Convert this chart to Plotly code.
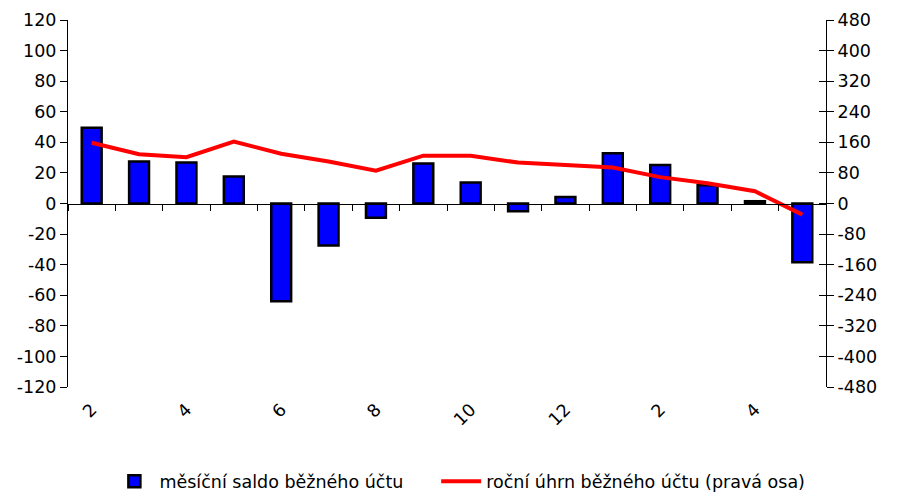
import plotly.graph_objects as go

# months Feb .. Dec, then Jan .. May
months = ["2", "3", "4", "5", "6", "7", "8", "9", "10", "11", "12", "1", "2", "3", "4", "5"]
categories = [f"{m}/{'a' if i < 11 else 'b'}" for i, m in enumerate(months)]
tick_vals = categories[::2]
tick_text = months[::2]

monthly_saldo = [49.5, 27.4, 26.8, 17.7, -64.0, -27.4, -9.3, 26.1,
                 13.8, -5.0, 4.3, 32.8, 25.1, 11.9, 1.5, -38.5]
annual_sum = [159, 129, 121, 162, 130, 110, 86, 125,
              125, 107, 101, 94, 69, 53, 32, -29]

left_ticks = list(range(-120, 121, 20))
right_ticks = list(range(-480, 481, 80))
# Excel-style hyphen instead of the unicode minus
left_text = [str(v) for v in left_ticks]
right_text = [str(v) for v in right_ticks]

font = "DejaVu Sans, Liberation Sans, Arial, sans-serif"
x_range = [-0.5, len(categories) - 0.5]
pad = "\u00a0" * 5

fig = go.Figure()
fig.add_trace(go.Bar(
    x=categories, y=monthly_saldo, name="měsíční saldo běžného účtu" + pad,
    marker=dict(color="#0000ff", line=dict(color="black", width=2.5)),
    xaxis="x", yaxis="y",
))
fig.add_trace(go.Scatter(
    x=categories, y=annual_sum, name="roční úhrn běžného účtu (pravá osa)",
    mode="lines", line=dict(color="#ff0000", width=4),
    xaxis="x", yaxis="y2",
))
# invisible traces carrying the axis through zero and the inner right ticks
fig.add_trace(go.Scatter(
    x=categories, y=[0] * len(categories), mode="lines",
    line=dict(width=0), showlegend=False, hoverinfo="skip",
    xaxis="x2", yaxis="y",
))
fig.add_trace(go.Scatter(
    x=categories, y=[0] * len(categories), mode="lines",
    line=dict(width=0), showlegend=False, hoverinfo="skip",
    xaxis="x", yaxis="y3",
))

fig.update_layout(
    width=881, height=488,
    margin=dict(l=60, r=63, t=12, b=109),
    plot_bgcolor="white", paper_bgcolor="white",
    font=dict(family=font, size=17.5, color="black"),
    bargap=0.58,
    showlegend=True,
    legend=dict(orientation="h", x=0.517, xanchor="center",
                yref="container", y=0.03, yanchor="middle",
                font=dict(size=17.5), itemwidth=40, traceorder="normal"),
    xaxis=dict(
        type="category", categoryorder="array", categoryarray=categories,
        range=x_range, automargin=False,
        tickmode="array", tickvals=tick_vals, ticktext=tick_text,
        tickangle=-45, showline=False, ticks="", showgrid=False,
        ticklabelstandoff=8,
    ),
    xaxis2=dict(
        type="category", categoryorder="array", categoryarray=categories,
        range=x_range, automargin=False,
        overlaying="x", anchor="free", position=0.5,
        showline=True, linecolor="black", linewidth=1,
        ticks="outside", tickson="boundaries", ticklen=6, tickcolor="black",
        showticklabels=False, showgrid=False,
    ),
    yaxis=dict(
        range=[-120, 120], tickmode="array", tickvals=left_ticks, ticktext=left_text,
        showgrid=False, zeroline=False, ticklabeloverflow="allow", automargin=False,
        showline=True, linecolor="black", linewidth=1,
        ticks="outside", ticklen=7, tickcolor="black",
    ),
    yaxis2=dict(
        range=[-480, 480], tickmode="array", tickvals=right_ticks, ticktext=right_text,
        overlaying="y", side="right", ticklabeloverflow="allow", automargin=False,
        showgrid=False, zeroline=False,
        showline=True, linecolor="black", linewidth=1,
        ticks="outside", ticklen=7, tickcolor="black",
    ),
    yaxis3=dict(
        range=[-480, 480], tickmode="array", tickvals=right_ticks,
        overlaying="y", side="right", showticklabels=False, automargin=False,
        showgrid=False, zeroline=False, showline=False,
        ticks="inside", ticklen=7, tickcolor="black",
    ),
)

fig.write_html("out.html")
